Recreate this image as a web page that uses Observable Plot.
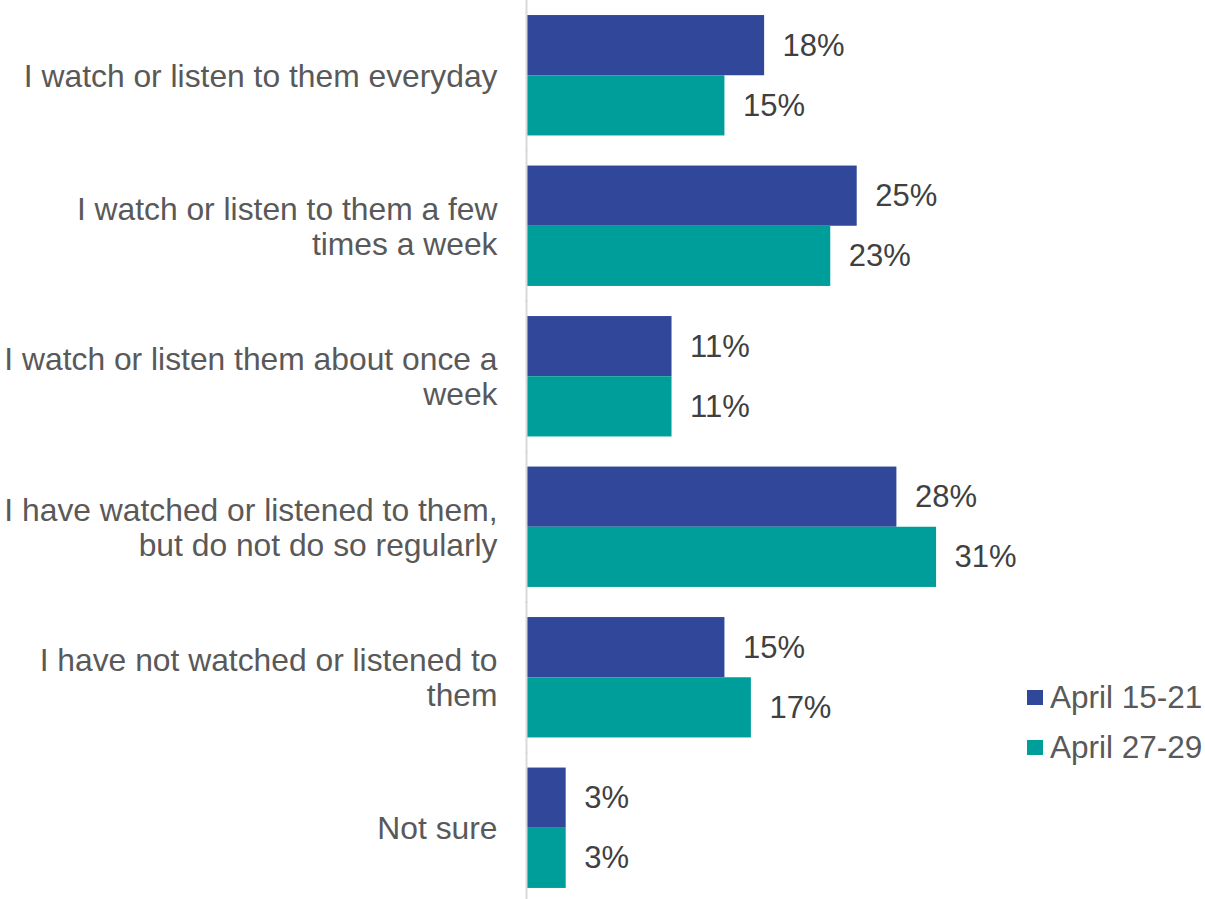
<!DOCTYPE html>
<html>
<head>
<meta charset="utf-8">
<script src="https://cdn.jsdelivr.net/npm/d3@7"></script>
<script src="https://cdn.jsdelivr.net/npm/@observablehq/plot@0.6"></script>
<style>
  html, body { margin: 0; padding: 0; background: #fff; overflow: hidden; }
  #wrap { position: relative; width: 1205px; height: 899px; }
  #chart svg { display: block; }
  #legend { position: absolute; left: 1027px; top: 672px; font-family: "Liberation Sans", Arial, sans-serif; font-size: 31.5px; color: #595959; }
  #legend .row { display: flex; align-items: center; height: 50px; }
  #legend .sw { width: 16px; height: 15px; margin-right: 7px; }
</style>
</head>
<body>
<div id="wrap">
  <div id="chart"></div>
  <div id="legend"></div>
</div>
<script>
const categories = [
  "I watch or listen to them everyday",
  "I watch or listen to them a few\ntimes a week",
  "I watch or listen them about once a\nweek",
  "I have watched or listened to them,\nbut do not do so regularly",
  "I have not watched or listened to\nthem",
  "Not sure"
];
const seriesNames = ["April 15-21", "April 27-29"];
const april15_21 = [18, 25, 11, 28, 15, 3];
const april27_29 = [15, 23, 11, 31, 17, 3];
const seriesColors = ["#30479A", "#009E9B"];

const data = [];
categories.forEach((c, i) => {
  data.push({cat: c, series: seriesNames[0], value: april15_21[i]});
  data.push({cat: c, series: seriesNames[1], value: april27_29[i]});
});

const chart = Plot.plot({
  width: 1205,
  height: 903,
  marginLeft: 526,
  marginRight: 216,
  marginTop: 0,
  marginBottom: 0,
  style: {fontFamily: "'Liberation Sans', Arial, sans-serif", fontSize: "31px", background: "#fff"},
  x: {domain: [0, 35], axis: null},
  y: {domain: seriesNames, axis: null, paddingInner: 0, paddingOuter: 0, round: false},
  fy: {domain: categories, paddingInner: 0.2, paddingOuter: 0.1, label: null, round: false},
  color: {domain: seriesNames, range: seriesColors},
  marks: [
    Plot.barX(data, {fy: "cat", y: "series", x: "value", fill: "series"}),
    Plot.ruleX([0], {stroke: "#d9d9d9", strokeWidth: 2, insetTop: -16, insetBottom: -16}),
    Plot.text(data, {fy: "cat", y: "series", x: "value", text: d => d.value + "%", dx: 18, textAnchor: "start", fill: "#404040", fontSize: 31}),
    Plot.axisFy({anchor: "left", tickSize: 0, tickPadding: 29, fontSize: 31.8, fill: "#595959", lineHeight: 1.1, label: null})
  ]
});
document.getElementById("chart").appendChild(chart);

const legend = document.getElementById("legend");
seriesNames.forEach((s, i) => {
  const row = document.createElement("div");
  row.className = "row";
  const sw = document.createElement("div");
  sw.className = "sw";
  sw.style.background = seriesColors[i];
  const t = document.createElement("span");
  t.textContent = s;
  row.appendChild(sw);
  row.appendChild(t);
  legend.appendChild(row);
});
</script>
</body>
</html>
